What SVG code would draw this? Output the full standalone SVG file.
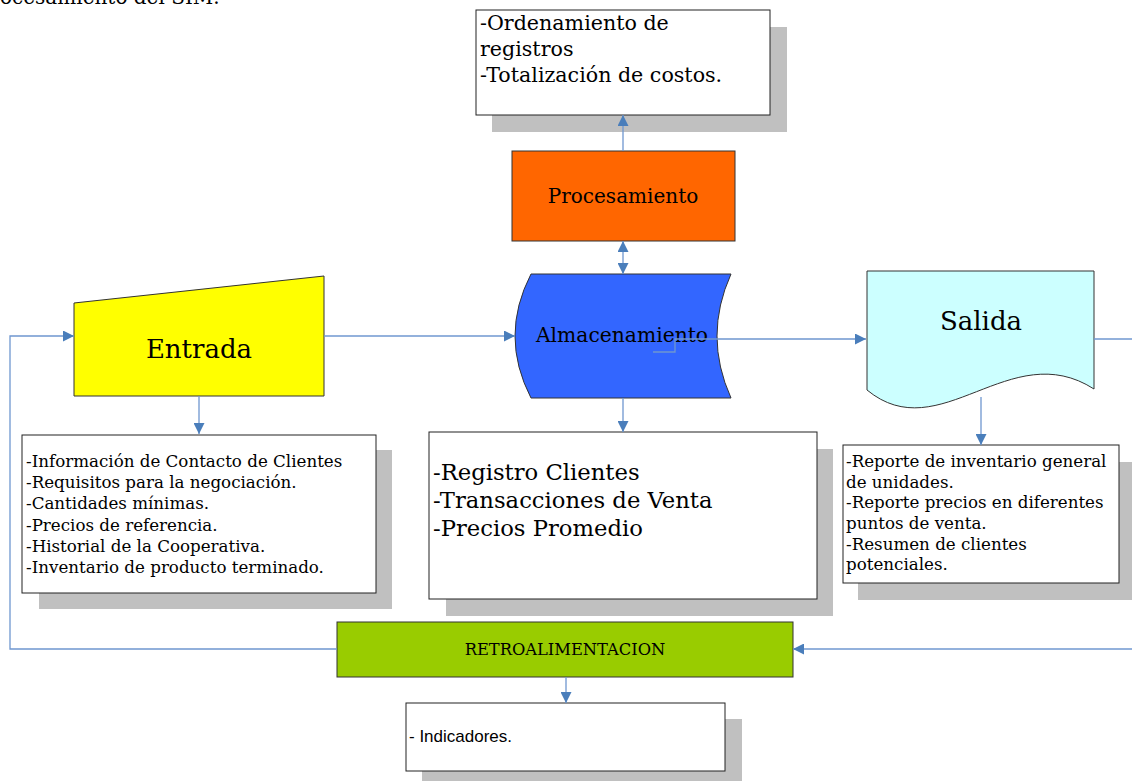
<svg xmlns="http://www.w3.org/2000/svg" width="1132" height="781" viewBox="0 0 1132 781">
  <style>
    .serif { font-family: "DejaVu Serif", "Liberation Serif", serif; fill: #000; }
    .sans { font-family: "Liberation Sans", Arial, sans-serif; fill: #000; }
    .box { fill: #ffffff; stroke: #222; stroke-width: 1; }
    .shadow { fill: #c0c0c0; stroke: none; }
    .shape { stroke: #333; stroke-width: 1; }
    .conn { fill: none; stroke: #6f97d0; stroke-width: 1.3; }
  </style>
  <defs>
    <marker id="arrow" viewBox="0 0 10 10" refX="10" refY="5" markerWidth="11" markerHeight="11" markerUnits="userSpaceOnUse" orient="auto-start-reverse">
      <path d="M0,0 L10,5 L0,10 Z" fill="#4a7ebb"/>
    </marker>
  </defs>

  <rect width="1132" height="781" fill="#ffffff"/>

  <!-- heading line, mostly above the page edge -->
  <text class="serif" x="-23" y="4" font-size="20">Procesamiento del SIM.</text>

  <!-- processing results -->
  <g id="proc-notes">
    <rect class="shadow" x="492" y="27" width="295" height="105"/>
    <rect class="box" x="476" y="10" width="294" height="105"/>
    <text class="serif" font-size="20.6">
      <tspan x="480" y="30">-Ordenamiento de</tspan>
      <tspan x="480" y="56">registros</tspan>
      <tspan x="480" y="82">-Totalización de costos.</tspan>
    </text>
  </g>

  <g id="procesamiento">
    <rect class="shape" x="512" y="151" width="223" height="90" fill="#ff6600"/>
    <text class="serif" x="623" y="203" font-size="20" text-anchor="middle">Procesamiento</text>
  </g>

  <g id="almacenamiento">
    <path class="shape" d="M531,274 L731,274 Q703,336 731,398 L531,398 Q499,336 531,274 Z" fill="#3366ff"/>
    <text class="serif" x="622" y="342" font-size="20.3" text-anchor="middle">Almacenamiento</text>
  </g>

  <g id="entrada">
    <path class="shape" d="M74,303 L324,276 L324,396 L74,396 Z" fill="#ffff00"/>
    <text class="serif" x="199" y="358" font-size="26" text-anchor="middle">Entrada</text>
  </g>

  <g id="salida">
    <path class="shape" d="M867,271 H1094 V389 C1010,335 940,450 867,390 Z" fill="#ccffff"/>
    <text class="serif" x="981" y="330" font-size="26" text-anchor="middle">Salida</text>
  </g>

  <g id="entrada-notes">
    <rect class="shadow" x="39" y="450" width="353" height="159"/>
    <rect class="box" x="22" y="435" width="354" height="158"/>
    <text class="serif" font-size="16.7">
      <tspan x="26" y="467">-Información de Contacto de Clientes</tspan>
      <tspan x="26" y="488">-Requisitos para la negociación.</tspan>
      <tspan x="26" y="509">-Cantidades mínimas.</tspan>
      <tspan x="26" y="531">-Precios de referencia.</tspan>
      <tspan x="26" y="552">-Historial de la Cooperativa.</tspan>
      <tspan x="26" y="573">-Inventario de producto terminado.</tspan>
    </text>
  </g>

  <g id="almacenamiento-notes">
    <rect class="shadow" x="446" y="449" width="387" height="167"/>
    <rect class="box" x="429" y="432" width="388" height="167"/>
    <text class="serif" font-size="22.7">
      <tspan x="433" y="480">-Registro Clientes</tspan>
      <tspan x="433" y="508">-Transacciones de Venta</tspan>
      <tspan x="433" y="536">-Precios Promedio</tspan>
    </text>
  </g>

  <g id="salida-notes">
    <rect class="shadow" x="858" y="462" width="280" height="138"/>
    <rect class="box" x="843" y="445" width="276" height="138"/>
    <text class="serif" font-size="16.7">
      <tspan x="846" y="467">-Reporte de inventario general</tspan>
      <tspan x="846" y="488">de unidades.</tspan>
      <tspan x="846" y="508">-Reporte precios en diferentes</tspan>
      <tspan x="846" y="529">puntos de venta.</tspan>
      <tspan x="846" y="550">-Resumen de clientes</tspan>
      <tspan x="846" y="570">potenciales.</tspan>
    </text>
  </g>

  <g id="retroalimentacion">
    <rect class="shape" x="337" y="622" width="456" height="55" fill="#99cc00"/>
    <text class="serif" x="565" y="655" font-size="16.3" text-anchor="middle">RETROALIMENTACION</text>
  </g>

  <g id="indicadores">
    <rect class="shadow" x="422" y="719" width="320" height="65"/>
    <rect class="box" x="406" y="703" width="319" height="68"/>
    <text class="sans" x="409" y="742" font-size="17">- Indicadores.</text>
  </g>

  <!-- connectors, drawn over the shapes -->
  <g id="connectors">
    <path class="conn" d="M623,151 V115" marker-end="url(#arrow)"/>
    <path class="conn" d="M623,241 V274" marker-start="url(#arrow)" marker-end="url(#arrow)"/>
    <path class="conn" d="M324,336 H515" marker-end="url(#arrow)"/>
    <path class="conn" d="M653,352 H675 V339 H866" marker-end="url(#arrow)"/>
    <path class="conn" d="M199,396 V434" marker-end="url(#arrow)"/>
    <path class="conn" d="M623,398 V432" marker-end="url(#arrow)"/>
    <path class="conn" d="M981,397 V445" marker-end="url(#arrow)"/>
    <path class="conn" d="M1094,339 H1134"/>
    <path class="conn" d="M1134,649 H793" marker-end="url(#arrow)"/>
    <path class="conn" d="M337,649 H10 V336 H74" marker-end="url(#arrow)"/>
    <path class="conn" d="M566,677 V703" marker-end="url(#arrow)"/>
  </g>
</svg>
